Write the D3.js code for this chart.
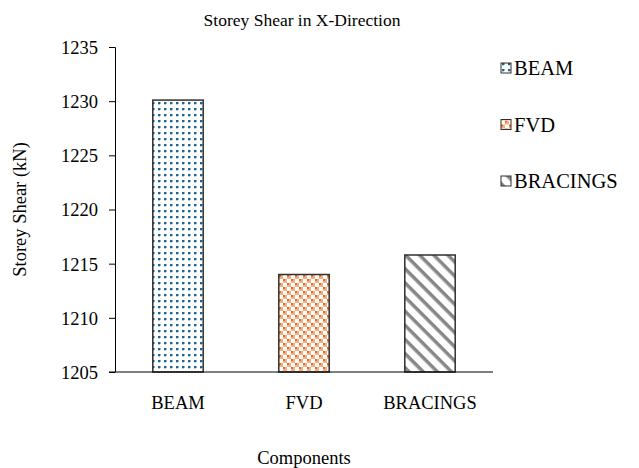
<!DOCTYPE html>
<html>
<head>
<meta charset="utf-8">
<script src="https://cdn.jsdelivr.net/npm/d3@7"></script>
<style>
  body { margin: 0; background: #fff; }
  text { font-family: "Liberation Serif", "Times New Roman", serif; fill: #000; }
</style>
</head>
<body>
<script>
(function () {
    "use strict";

    // chart data
    var categories = ["BEAM", "FVD", "BRACINGS"];
    var shearValues = [1230.1, 1214.0, 1215.8];
    var yTicks = [1205, 1210, 1215, 1220, 1225, 1230, 1235];
    var patternIds = ["patBeam", "patFvd", "patBrace"];

    var serif = "'Liberation Serif', 'Times New Roman', serif";

    var width = 639, height = 468;
    var margin = {top: 47, right: 146, bottom: 96, left: 115};
    var innerWidth = width - margin.left - margin.right;
    var innerHeight = height - margin.top - margin.bottom;

    var svg = d3.select("body").append("svg")
        .attr("width", width)
        .attr("height", height);

    // fill patterns
    var defs = svg.append("defs");

    var beam = defs.append("pattern")
        .attr("id", "patBeam")
        .attr("patternUnits", "userSpaceOnUse")
        .attr("width", 6).attr("height", 6);
    beam.append("rect").attr("width", 6).attr("height", 6).attr("fill", "#fff");
    beam.append("rect").attr("x", 1).attr("y", 1).attr("width", 2).attr("height", 2).attr("fill", "#1f6591");
    beam.append("rect").attr("x", 3).attr("y", 1).attr("width", 1).attr("height", 2).attr("fill", "#8ab4cf");
    beam.append("rect").attr("x", 1).attr("y", 3).attr("width", 2).attr("height", 1).attr("fill", "#b7d0e0");

    var fvd = defs.append("pattern")
        .attr("id", "patFvd")
        .attr("patternUnits", "userSpaceOnUse")
        .attr("width", 8).attr("height", 8);
    fvd.append("rect").attr("width", 8).attr("height", 8).attr("fill", "#fff");
    [[0, 0], [4, 4]].forEach(function (p) {
        fvd.append("rect").attr("x", p[0]).attr("y", p[1]).attr("width", 2).attr("height", 2).attr("fill", "#ee6a24");
    });
    [[2, 0], [0, 2], [6, 4], [4, 6], [2, 2], [6, 6]].forEach(function (p) {
        fvd.append("rect").attr("x", p[0]).attr("y", p[1]).attr("width", 2).attr("height", 2).attr("fill", "#f6ad82");
    });

    // stripes running down to the right
    var brace = defs.append("pattern")
        .attr("id", "patBrace")
        .attr("patternUnits", "userSpaceOnUse")
        .attr("width", 10).attr("height", 10)
        .attr("patternTransform", "rotate(45)");
    brace.append("rect").attr("width", 10).attr("height", 10).attr("fill", "#fff");
    brace.append("rect").attr("x", 0).attr("y", 0).attr("width", 10).attr("height", 3.5).attr("fill", "#878787");

    var plotArea = svg.append("g")
        .attr("transform", "translate(" + margin.left + "," + margin.top + ")");

    var x = d3.scaleBand()
        .domain(categories)
        .range([0, innerWidth])
        .paddingInner(0.6)
        .paddingOuter(0.3);

    var y = d3.scaleLinear()
        .domain([1205, 1235])
        .range([innerHeight, 0]);

    // bars
    plotArea.selectAll("rect.bar")
        .data(categories)
        .enter().append("rect")
        .attr("class", "bar")
        .attr("x", function (d) { return x(d); })
        .attr("y", function (d, i) { return y(shearValues[i]); })
        .attr("width", x.bandwidth())
        .attr("height", function (d, i) { return innerHeight - y(shearValues[i]); })
        .attr("fill", function (d, i) { return "url(#" + patternIds[i] + ")"; })
        .attr("stroke", "#303030")
        .attr("stroke-width", 1.5);

    // y axis
    var yAxis = plotArea.append("g")
        .call(d3.axisLeft(y).tickValues(yTicks).tickSize(6).tickPadding(11).tickFormat(d3.format("d")));
    yAxis.attr("font-family", serif).attr("font-size", 18.5);
    yAxis.select(".domain").attr("stroke", "#000").attr("d", "M-6,0.5H0.5V" + innerHeight + "H-6");
    yAxis.selectAll("line").attr("stroke", "#000");
    yAxis.selectAll("text")
        .style("font-family", serif)
        .style("font-size", "18.5px")
        .attr("dy", "0.35em");

    // x axis
    var xAxis = plotArea.append("g")
        .attr("transform", "translate(0," + innerHeight + ")")
        .call(d3.axisBottom(x).tickSize(0).tickPadding(24));
    xAxis.attr("font-family", serif).attr("font-size", 18.5);
    xAxis.select(".domain").attr("stroke", "#000").attr("d", "M0,0H" + innerWidth);
    xAxis.selectAll("text")
        .style("font-family", serif)
        .style("font-size", "18.5px");

    // titles
    svg.append("text")
        .attr("x", 302).attr("y", 26)
        .attr("text-anchor", "middle")
        .style("font-size", "17.5px")
        .text("Storey Shear in X-Direction");

    svg.append("text")
        .attr("transform", "translate(26," + (margin.top + innerHeight / 2) + ") rotate(-90)")
        .attr("text-anchor", "middle")
        .style("font-size", "18.5px")
        .text("Storey Shear (kN)");

    svg.append("text")
        .attr("x", margin.left + innerWidth / 2).attr("y", 464)
        .attr("text-anchor", "middle")
        .style("font-size", "18.5px")
        .text("Components");

    // legend
    var legend = svg.append("g")
        .attr("transform", "translate(501,68)");
    var items = legend.selectAll("g")
        .data(categories)
        .enter().append("g")
        .attr("transform", function (d, i) { return "translate(0," + (i * 56.5) + ")"; });
    items.append("rect")
        .attr("y", -5)
        .attr("width", 10).attr("height", 10)
        .attr("fill", function (d, i) { return "url(#" + patternIds[i] + ")"; })
        .attr("stroke", "#303030");
    items.append("text")
        .attr("x", 13).attr("y", 7)
        .style("font-size", "20.5px")
        .text(function (d) { return d; });
})();
</script>
</body>
</html>
